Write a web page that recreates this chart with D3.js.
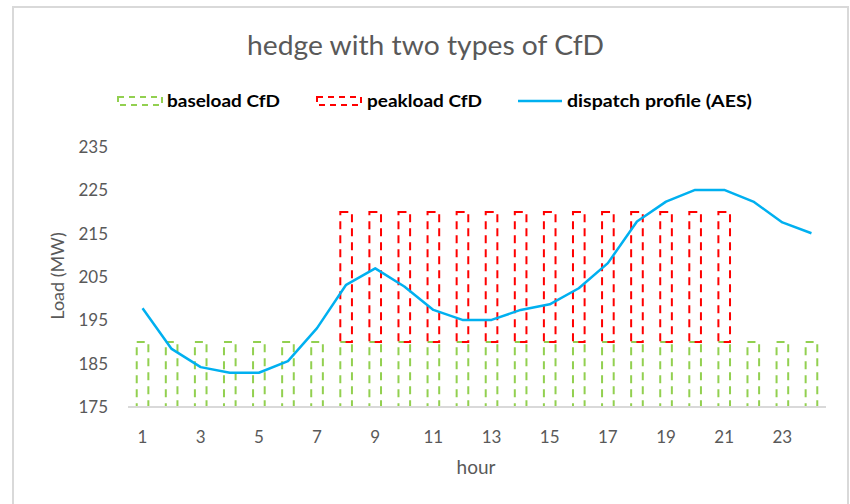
<!DOCTYPE html>
<html>
<head>
<meta charset="utf-8">
<script src="https://cdn.jsdelivr.net/npm/d3@7"></script>
<style>
  html, body { margin: 0; padding: 0; background: #fff; }
  svg { display: block; font-family: Lato, "Open Sans", sans-serif; }
</style>
</head>
<body>
<svg id="chart" width="850" height="504"></svg>
<script>
// ---- data ----
const hours = d3.range(1, 25);
const baseload = [190,190,190,190,190,190,190,190,190,190,190,190,190,190,190,190,190,190,190,190,190,190,190,190];
const peakload = [0,0,0,0,0,0,0,30,30,30,30,30,30,30,30,30,30,30,30,30,30,0,0,0];
const dispatch = [197.8,188.4,184.2,182.9,182.9,185.6,193.2,203.2,207.0,202.8,197.4,195.1,195.1,197.4,198.7,202.4,208.2,217.8,222.4,225.1,225.1,222.4,217.6,215.1];
const yTicks = [175,185,195,205,215,225,235];
const xTickLabels = [1,3,5,7,9,11,13,15,17,19,21,23];
const title = "hedge with two types of CfD";
const seriesNames = ["baseload CfD", "peakload CfD", "dispatch profile (AES)"];

// ---- style ----
const green = "#92d050", red = "#ff0000", blue = "#00b0f0";
const textGrey = "#595959";

const svg = d3.select("#chart");

// chart border
svg.append("rect").attr("x", 13).attr("y", 7).attr("width", 835).attr("height", 520)
  .attr("fill", "#fff").attr("stroke", "#d9d9d9").attr("stroke-width", 2);

const x = d3.scaleBand().domain(hours).range([128, 826]).paddingInner(0.6).paddingOuter(0.3);
const y = d3.scaleLinear().domain([175, 235]).range([407, 147]);

// title
svg.append("text").attr("x", 425.5).attr("y", 55).attr("text-anchor", "middle")
  .attr("font-size", 27).attr("fill", textGrey)
  .attr("textLength", 357).attr("lengthAdjust", "spacingAndGlyphs").text(title);

// y tick labels
svg.append("g").selectAll("text").data(yTicks).join("text")
  .attr("x", 108).attr("y", d => y(d)).attr("dy", "0.35em").attr("text-anchor", "end")
  .attr("font-size", 17).attr("fill", textGrey).text(d => d);

// y title
svg.append("text").attr("transform", "translate(58,276) rotate(-90)").attr("text-anchor", "middle")
  .attr("dy", "0.35em").attr("font-size", 18).attr("fill", textGrey).text("Load (MW)");

// x tick labels
svg.append("g").selectAll("text").data(xTickLabels).join("text")
  .attr("x", d => x(d) + x.bandwidth() / 2).attr("y", 437).attr("dy", "0.35em").attr("text-anchor", "middle")
  .attr("font-size", 17).attr("fill", textGrey).text(d => d);

// x title
svg.append("text").attr("x", 476).attr("y", 467).attr("dy", "0.35em").attr("text-anchor", "middle")
  .attr("font-size", 19).attr("fill", textGrey).text("hour");

// bars: baseload (175 -> value)
const dash = "8,6";
svg.append("g").selectAll("rect").data(hours).join("rect")
  .attr("x", d => x(d)).attr("width", x.bandwidth())
  .attr("y", (d, i) => y(baseload[i])).attr("height", (d, i) => y(175) - y(baseload[i]))
  .attr("fill", "none").attr("stroke", green).attr("stroke-width", 2).attr("stroke-dasharray", dash);

// bars: peakload stacked on baseload
svg.append("g").selectAll("rect").data(hours.filter((d, i) => peakload[i] > 0)).join("rect")
  .attr("x", d => x(d)).attr("width", x.bandwidth())
  .attr("y", d => y(baseload[d - 1] + peakload[d - 1]))
  .attr("height", d => y(baseload[d - 1]) - y(baseload[d - 1] + peakload[d - 1]))
  .attr("fill", "none").attr("stroke", red).attr("stroke-width", 2).attr("stroke-dasharray", dash);

// axis line
svg.append("line").attr("x1", 128).attr("x2", 826).attr("y1", y(175)).attr("y2", y(175))
  .attr("stroke", "#d9d9d9").attr("stroke-width", 2);

// dispatch line
const line = d3.line().x((d, i) => x(hours[i]) + x.bandwidth() / 2).y(d => y(d));
svg.append("path").datum(dispatch).attr("d", line)
  .attr("fill", "none").attr("stroke", blue).attr("stroke-width", 2.5).attr("stroke-linejoin", "round");

// legend
const lg = svg.append("g");
const legendText = (xx, txt, w) => lg.append("text").attr("x", xx).attr("y", 101).attr("dy", "0.35em")
  .attr("font-size", 17).attr("font-weight", "bold").attr("fill", "#000")
  .attr("textLength", w).attr("lengthAdjust", "spacingAndGlyphs").text(txt);
lg.append("rect").attr("x", 118).attr("y", 97).attr("width", 44).attr("height", 8)
  .attr("fill", "none").attr("stroke", green).attr("stroke-width", 2).attr("stroke-dasharray", "6,5");
legendText(167, seriesNames[0], 113);
lg.append("rect").attr("x", 317).attr("y", 97).attr("width", 44).attr("height", 8)
  .attr("fill", "none").attr("stroke", red).attr("stroke-width", 2).attr("stroke-dasharray", "6,5");
legendText(367, seriesNames[1], 115);
lg.append("line").attr("x1", 518).attr("x2", 562).attr("y1", 101).attr("y2", 101)
  .attr("stroke", blue).attr("stroke-width", 2.5);
legendText(567, seriesNames[2], 185);
</script>
</body>
</html>
